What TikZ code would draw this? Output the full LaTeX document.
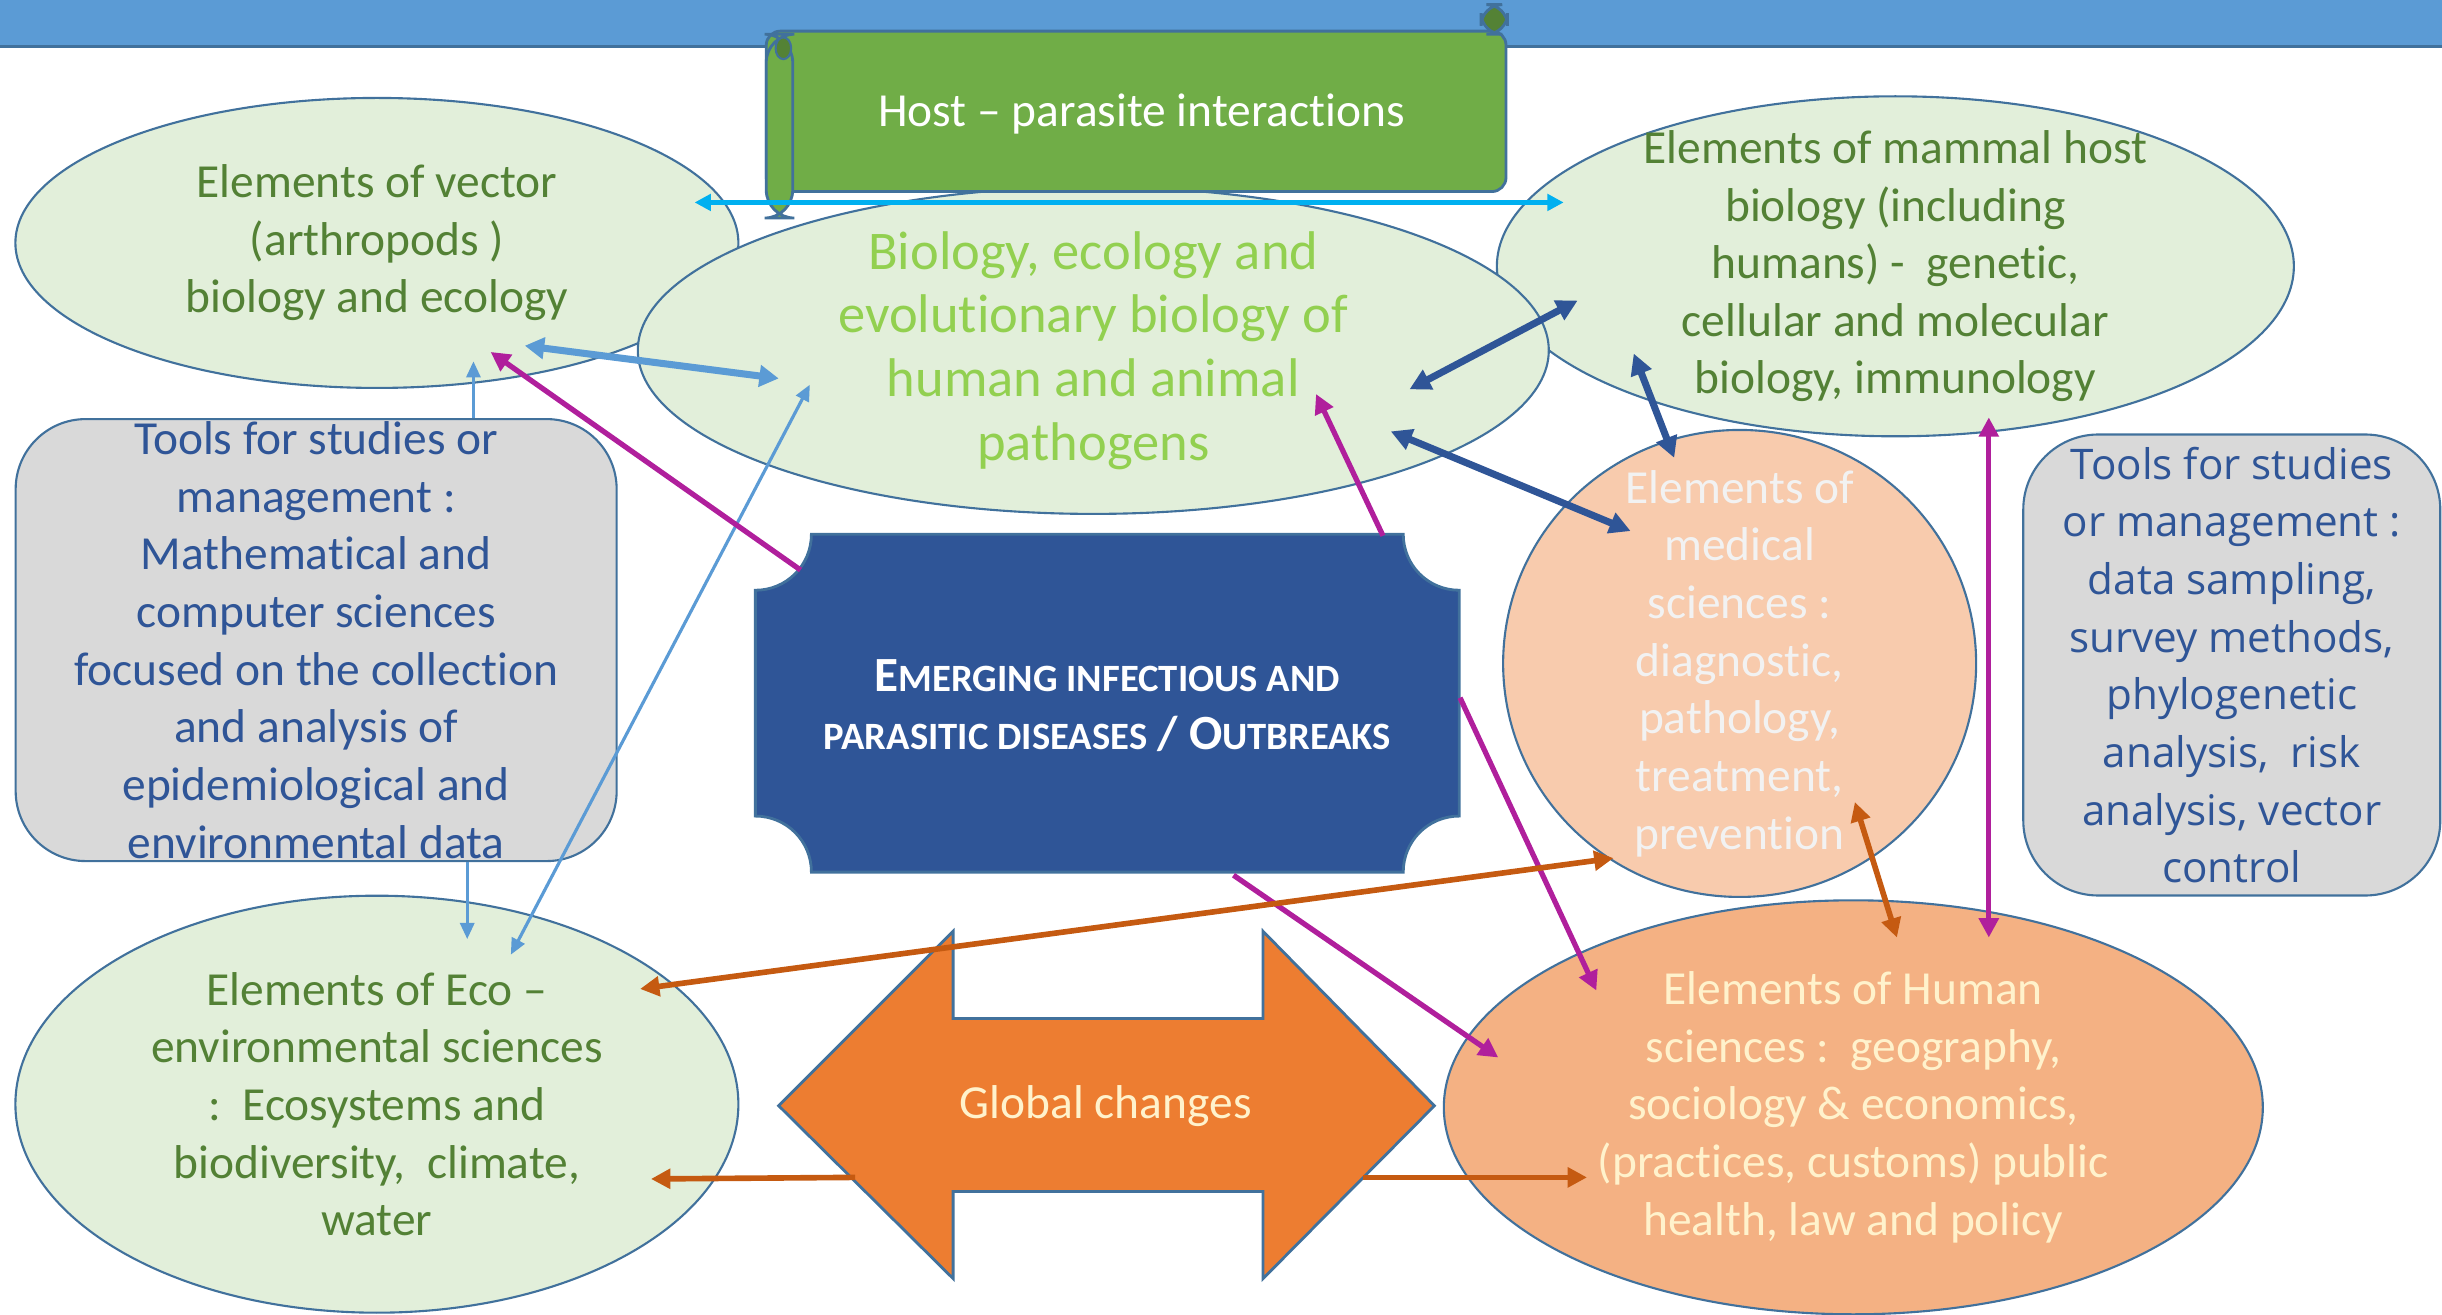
\documentclass[tikz,border=0pt]{standalone}
\usepackage{fontspec}
\setmainfont{Carlito}[Ligatures=NoCommon]
\newfontfamily\toolfont{Open Sans}
\usetikzlibrary{shapes.geometric,arrows.meta,calc}

\definecolor{bandblue}{HTML}{5B9BD5}
\definecolor{edgeblue}{HTML}{41719C}
\definecolor{greenfill}{HTML}{E2EFDA}
\definecolor{darkgreen}{HTML}{538135}
\definecolor{lightgreen}{HTML}{92D050}
\definecolor{scrollgreen}{HTML}{70AD47}
\definecolor{rollgreen}{HTML}{548235}
\definecolor{toolgray}{HTML}{D9D9D9}
\definecolor{toolblue}{HTML}{2F5597}
\definecolor{medfill}{HTML}{F8CBAD}
\definecolor{medtext}{HTML}{F2F2F2}
\definecolor{humfill}{HTML}{F4B183}
\definecolor{creamtext}{HTML}{FFF2CC}
\definecolor{globorange}{HTML}{ED7D31}
\definecolor{linkcyan}{HTML}{00B0F0}
\definecolor{linkmagenta}{HTML}{B01F9C}
\definecolor{linkbrown}{HTML}{C55A11}

\newcommand{\capfirst}[1]{{\fontsize{14}{16.4}\selectfont #1}}
\newcommand{\lowcaps}[1]{{\fontsize{11}{16.4}\selectfont\MakeUppercase{#1}}}

\tikzset{
  txt/.style={font=\fontsize{13.5}{16.4}\selectfont, align=center},
  ell/.style={ellipse, draw=edgeblue, line width=0.6pt, inner sep=-8mm, txt},
  toolbox/.style={draw=edgeblue, fill=toolgray, line width=0.6pt, text=toolblue,
    inner sep=-8mm, txt},
  thinlink/.style={draw=bandblue, line width=0.9pt, >={Triangle[length=4.6pt,width=4pt]}},
  bluelink/.style={draw=bandblue, line width=2pt, >={Triangle[length=5.5pt,width=6pt]}},
  darklink/.style={draw=toolblue, line width=2pt, >={Triangle[length=6pt,width=6pt]}},
  magentalink/.style={draw=linkmagenta, line width=1.5pt, >={Triangle[length=5.5pt,width=5.5pt]}},
  brownlink/.style={draw=linkbrown, line width=1.6pt, >={Triangle[length=5.5pt,width=5.5pt]}},
  cyanlink/.style={draw=linkcyan, line width=1.3pt, >={Triangle[length=4.6pt,width=4.6pt]}}
}

\begin{document}
\begin{tikzpicture}[x=0.15574mm, y=-0.15574mm]
\useasboundingbox (0,0) rectangle (1568,844);

% top band
\fill [bandblue] (0,0) rectangle (1568,30);
\draw [edgeblue, line width=1pt] (0,30) -- (1568,30);

% biology ellipses
\node [ell, fill=greenfill, text=darkgreen, minimum width=72.3mm, minimum height=29mm] (vec) at (242,156)
  {Elements of vector\\(arthropods )\\biology and ecology};
\node [ell, fill=greenfill, text=darkgreen, minimum width=79.7mm, minimum height=34mm] (mam) at (1217,171)
  {Elements of mammal host\\biology (including\\humans) -\ \ genetic,\\cellular and molecular\\biology, immunology};
\node [ell, fill=greenfill, text=lightgreen, minimum width=91.1mm, minimum height=32.7mm,
  font=\fontsize{15.5}{18.1}\selectfont] (pat) at (702,225)
  {Biology, ecology and\\evolutionary biology of\\human and animal\\pathogens};

% scroll
\draw [fill=scrollgreen, draw=edgeblue, line width=0.8pt, rounded corners=4] (492,20) rectangle (967,123);
\draw [fill=rollgreen, draw=edgeblue, line width=0.8pt, rounded corners=6] (951,3) rectangle (968,22);
\draw [fill=scrollgreen, draw=edgeblue, line width=0.8pt, rounded corners=8] (492,22) rectangle (509,140);
\draw [fill=rollgreen, draw=edgeblue, line width=0.6pt] (503,31) ellipse [x radius=5, y radius=7];
\node [txt, text=white] (host) at (733,73) {Host -- parasite interactions};

% tool boxes
\node [toolbox, rounded corners=7mm, minimum width=60.1mm, minimum height=44.2mm] (ltool) at (203,411)
  {Tools for studies or\\management :\\Mathematical and\\computer sciences\\focused on the collection\\and analysis of\\epidemiological and\\environmental data};
\node [toolbox, rounded corners=7.5mm, minimum width=41.7mm, minimum height=46.1mm,
  font=\toolfont\fontsize{12}{16.4}\selectfont] (rtool) at (1433,427)
  {Tools for studies\\or management :\\data sampling,\\survey methods,\\phylogenetic\\analysis,\ \ risk\\analysis, vector\\control};

% sciences
\node [ell, fill=medfill, text=medtext, minimum width=47.3mm, minimum height=46.7mm] (med) at (1117,426)
  {Elements of\\medical\\sciences :\\diagnostic,\\pathology,\\treatment,\\prevention};
\node [ell, fill=greenfill, text=darkgreen, minimum width=72.3mm, minimum height=41.7mm] (eco) at (242,709)
  {Elements of Eco --\\environmental sciences\\:\ \ Ecosystems and\\biodiversity,\ \ climate,\\water};
\node [ell, fill=humfill, text=creamtext, minimum width=81.9mm, minimum height=41.4mm] (hum) at (1190,711)
  {Elements of Human\\sciences :\ \ geography,\\sociology \& economics,\\(practices, customs) public\\health, law and policy};

% emerging diseases
\draw [fill=toolblue, draw=edgeblue, line width=0.8pt] (521,343) -- (901,343)
  .. controls (901,363) and (917,379) .. (937,379) -- (937,524)
  .. controls (917,524) and (901,540) .. (901,560) -- (521,560)
  .. controls (521,540) and (505,524) .. (485,524) -- (485,379)
  .. controls (505,379) and (521,363) .. (521,343) -- cycle;
\node [txt, text=white, font=\fontsize{13.5}{16.4}\selectfont\bfseries, minimum width=70.4mm, minimum height=33.8mm] (emg) at (711,453)
  {\capfirst{E}\lowcaps{merging infectious and}\\\lowcaps{parasitic diseases} / \capfirst{O}\lowcaps{utbreaks}};

% global changes
\draw [fill=globorange, draw=edgeblue, line width=0.8pt] (500,710) -- (612,598) -- (612,654) -- (811,654)
  -- (811,598) -- (921,710) -- (811,821) -- (811,765) -- (612,765) -- (612,821) -- cycle;
\node [txt, text=creamtext] (glob) at (710,710) {Global changes};

% links
\draw [cyanlink, <->] ($(vec)+(204,-26)$) -- ($(mam)+(-213,-41)$);
\draw [bluelink, <->] ($(vec)+(95,66)$) -- ($(pat)+(-202,18)$);
\draw [thinlink, ->] ($(ltool.north)+(101,0)$) -- ($(vec)+(62,76)$);
\draw [thinlink, ->] ($(ltool.south)+(97,0)$) -- ($(eco)+(58,-106)$);
\draw [thinlink, <->] ($(eco)+(86,-96)$) -- ($(pat)+(-182,22)$);
\draw [magentalink, ->] ($(emg)+(-197,-87)$) -- ($(vec)+(73,70)$);
\draw [magentalink, ->] ($(emg.north)+(177,0)$) -- ($(pat)+(143,28)$);
\draw [magentalink, ->] ($(emg.east)+(0,-5)$) -- ($(hum)+(-165,-75)$);
\draw [magentalink, ->] ($(emg.south)+(81,0)$) -- ($(hum)+(-228,-32)$);
\draw [magentalink, <->] ($(mam)+(60,97)$) -- ($(hum)+(87,-109)$);
\draw [darklink, <->] ($(pat)+(203,25)$) -- ($(mam)+(-204,22)$);
\draw [darklink, <->] ($(mam)+(-168,56)$) -- ($(med)+(-42,-132)$);
\draw [darklink, <->] ($(pat)+(191,52)$) -- ($(med)+(-70,-85)$);
\draw [brownlink, <->] ($(eco)+(169,-74)$) -- ($(med)+(-81,125)$);
\draw [brownlink, <->] ($(med)+(74,89)$) -- ($(hum)+(28,-109)$);
\draw [brownlink, ->] ($(glob)+(-161,46)$) -- ($(eco)+(176,48)$);
\draw [brownlink, ->] ($(glob)+(165,46)$) -- ($(hum)+(-171,45)$);
\end{tikzpicture}
\end{document}
